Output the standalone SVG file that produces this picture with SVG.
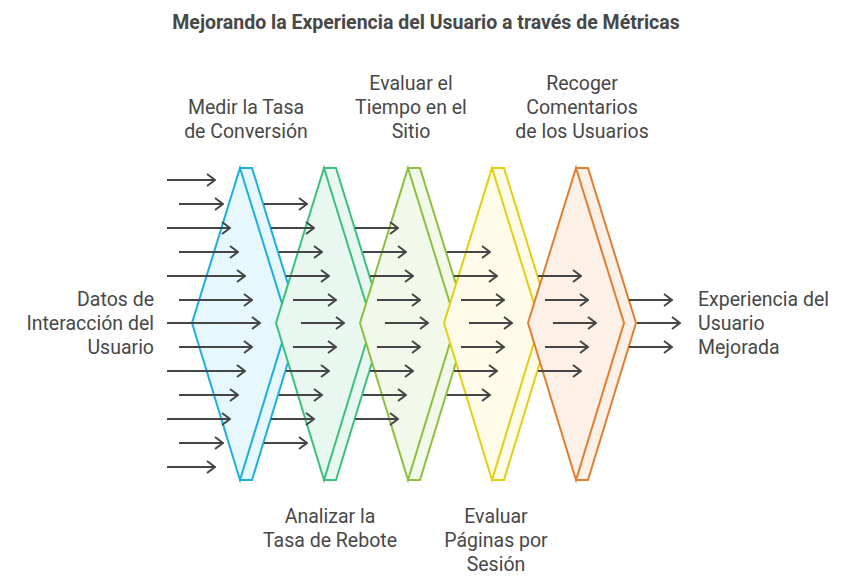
<svg xmlns="http://www.w3.org/2000/svg" width="852" height="588" viewBox="0 0 852 588">
<style>
text{font-family:Roboto,"Liberation Sans",sans-serif;fill:#484848;font-size:19.5px}
.t{font-weight:bold;font-size:19.5px}
.a path{stroke:#454545;stroke-width:2;fill:none;marker-end:url(#h)}
.s{stroke-width:2;stroke-linejoin:miter}
</style>
<defs>
<marker id="h" markerWidth="10" markerHeight="14" refX="9" refY="7" orient="auto" markerUnits="userSpaceOnUse"><path d="M1,1 L9,7 L1,13" fill="none" stroke="#454545" stroke-width="2"/></marker>
<g id="f"><polygon points="0,0 12,0 60,155 12,312 0,312"/><polygon points="0,0 48,155 0,312 -48,155"/></g>
</defs>
<rect width="852" height="588" fill="#fff"/>
<text class="t" x="426" y="29" text-anchor="middle">Mejorando la Experiencia del Usuario a través de Métricas</text>
<g id="n1" class="s"><use href="#f" x="240" y="168" fill="#E6F7FE" stroke="#1EAEE0"/></g>
<g id="n2" class="s"><use href="#f" x="324" y="168" fill="#E8F8F0" stroke="#3CC17A"/></g>
<g id="n3" class="s"><use href="#f" x="408" y="168" fill="#F2F9EA" stroke="#8DC03E"/></g>
<g id="n4" class="s"><use href="#f" x="492" y="168" fill="#FEFCE8" stroke="#E3CF12"/></g>
<g id="n5" class="s"><use href="#f" x="576" y="168" fill="#FDF0E6" stroke="#E07F30"/></g>
<g id="connectors" class="a">
<path d="M167,180H215"/><path d="M179,204H223"/><path d="M167,228H230"/><path d="M179,252H238"/><path d="M167,276H245"/><path d="M179,300H252"/><path d="M167,323H260"/><path d="M179,347H252"/><path d="M167,371H245"/><path d="M179,395H238"/><path d="M167,419H230"/><path d="M179,443H223"/><path d="M167,467H215"/>
<path d="M264,204H307"/><path d="M271,228H314"/><path d="M279,252H322"/><path d="M286,276H329"/><path d="M293,300H336"/><path d="M301,323H344"/><path d="M293,347H336"/><path d="M286,371H329"/><path d="M279,395H322"/><path d="M271,419H314"/><path d="M264,443H307"/>
<path d="M355,228H398"/><path d="M363,252H406"/><path d="M370,276H413"/><path d="M377,300H420"/><path d="M385,323H428"/><path d="M377,347H420"/><path d="M370,371H413"/><path d="M363,395H406"/><path d="M355,419H398"/>
<path d="M447,252H490"/><path d="M454,276H497"/><path d="M461,300H504"/><path d="M469,323H512"/><path d="M461,347H504"/><path d="M454,371H497"/><path d="M447,395H490"/>
<path d="M538,276H581"/><path d="M545,300H588"/><path d="M553,323H596"/><path d="M545,347H588"/><path d="M538,371H581"/>
<path d="M629,300H672"/><path d="M637,323H680"/><path d="M629,347H672"/>
</g>
<g id="labels">
<text x="154" y="306" text-anchor="end">Datos de</text>
<text x="154" y="330" text-anchor="end">Interacción del</text>
<text x="154" y="354" text-anchor="end">Usuario</text>
<text x="698" y="306">Experiencia del</text>
<text x="698" y="330">Usuario</text>
<text x="698" y="354">Mejorada</text>
<text x="246" y="114" text-anchor="middle">Medir la Tasa</text>
<text x="246" y="138" text-anchor="middle">de Conversión</text>
<text x="411" y="90" text-anchor="middle">Evaluar el</text>
<text x="411" y="114" text-anchor="middle">Tiempo en el</text>
<text x="411" y="138" text-anchor="middle">Sitio</text>
<text x="582" y="90" text-anchor="middle">Recoger</text>
<text x="582" y="114" text-anchor="middle">Comentarios</text>
<text x="582" y="138" text-anchor="middle">de los Usuarios</text>
<text x="330" y="523" text-anchor="middle">Analizar la</text>
<text x="330" y="547" text-anchor="middle">Tasa de Rebote</text>
<text x="496" y="523" text-anchor="middle">Evaluar</text>
<text x="496" y="547" text-anchor="middle">Páginas por</text>
<text x="496" y="571" text-anchor="middle">Sesión</text>
</g>
</svg>
